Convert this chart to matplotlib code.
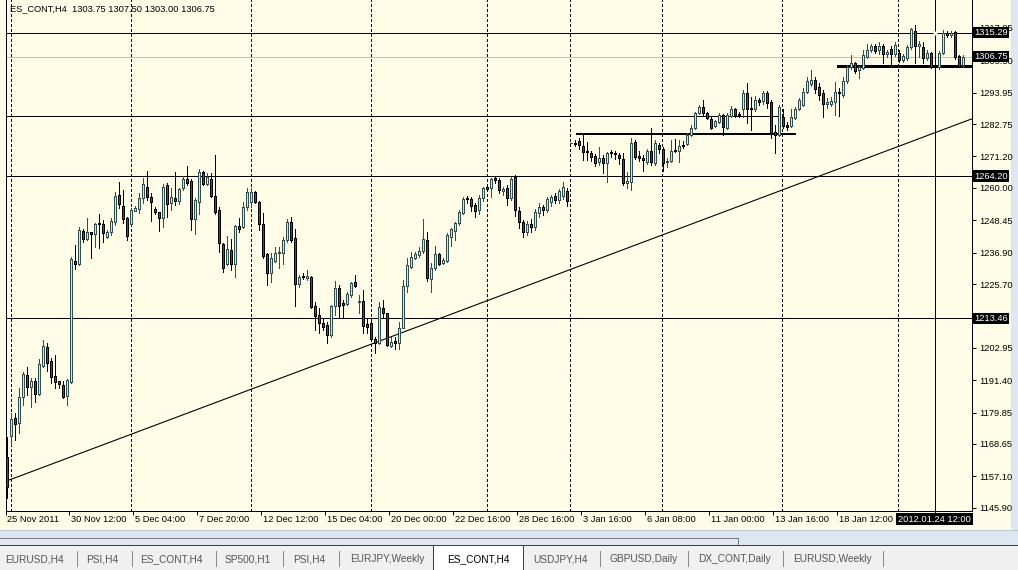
import matplotlib
matplotlib.use("Agg")
import matplotlib.pyplot as plt
from matplotlib.patches import Rectangle
import matplotlib.transforms as mtransforms

plt.rcParams['font.family'] = ['Liberation Sans', 'DejaVu Sans']

# -- DATA: ES_CONT H4 candles (25 Nov 2011 .. 24 Jan 2012)
opens = [
    1164.1, 1171.6, 1178.0, 1176.2, 1185.5, 1193.3, 1189.1, 1191.2, 1186.6, 1196.6,
    1203.3, 1198.3, 1193.0, 1191.2, 1189.8, 1185.8, 1190.8, 1234.0, 1232.9, 1244.7,
    1241.9, 1244.4, 1243.6, 1247.6, 1247.2, 1242.6, 1244.4, 1247.9, 1257.6, 1253.6,
    1249.3, 1247.2, 1251.8, 1252.5, 1256.5, 1260.4, 1256.8, 1252.5, 1251.5, 1249.3,
    1261.1, 1254.7, 1256.5, 1255.4, 1260.0, 1263.2, 1262.5, 1249.0, 1255.0, 1265.7,
    1261.5, 1263.2, 1257.2, 1252.2, 1240.1, 1233.0, 1237.9, 1233.0, 1246.5, 1246.1,
    1253.3, 1255.0, 1258.6, 1255.0, 1247.2, 1236.5, 1229.7, 1234.0, 1236.9, 1236.9,
    1241.5, 1247.9, 1242.2, 1225.8, 1228.7, 1228.0, 1228.3, 1218.0, 1214.7, 1211.9,
    1211.2, 1207.6, 1217.9, 1224.4, 1219.0, 1218.7, 1221.9, 1226.5, 1219.4, 1219.7,
    1211.5, 1211.9, 1206.2, 1204.8, 1217.3, 1215.5, 1203.7, 1205.5, 1204.8, 1210.1,
    1225.1, 1231.9, 1235.1, 1236.2, 1237.6, 1241.5, 1227.6, 1231.5, 1236.5, 1233.3,
    1234.0, 1242.6, 1244.7, 1247.6, 1251.1, 1256.5, 1256.1, 1254.0, 1252.2, 1256.5,
    1260.4, 1260.0, 1263.6, 1262.9, 1259.0, 1260.0, 1256.5, 1264.0, 1251.8, 1247.9,
    1244.4, 1247.2, 1246.1, 1251.1, 1253.3, 1252.2, 1255.0, 1257.2, 1255.8, 1257.2,
    1259.0, 1276.1, 1276.1, 1276.8, 1275.1, 1273.3, 1272.6, 1271.5, 1269.3, 1270.8,
    1269.0, 1272.9, 1272.6, 1271.8, 1270.4, 1261.8, 1262.2, 1276.5, 1271.5, 1270.8,
    1269.3, 1273.3, 1269.0, 1275.4, 1274.0, 1269.3, 1269.7, 1273.6, 1273.3, 1275.4,
    1275.8, 1279.0, 1281.4, 1286.8, 1288.9, 1286.8, 1284.6, 1282.2, 1283.6, 1286.1,
    1281.4, 1285.7, 1288.2, 1286.5, 1288.1, 1293.9, 1288.6, 1288.2, 1291.4, 1291.1,
    1293.9, 1290.7, 1280.0, 1279.0, 1285.4, 1282.5, 1282.2, 1285.0, 1288.2, 1289.7,
    1294.3, 1297.1, 1298.6, 1296.1, 1293.9, 1290.0, 1290.0, 1290.7, 1294.3, 1293.2,
    1298.2, 1303.2, 1304.7, 1302.1, 1302.9, 1306.8, 1309.3, 1310.7, 1309.3, 1310.7,
    1307.9, 1309.6, 1307.9, 1308.2, 1305.7, 1306.4, 1310.3, 1316.1, 1310.7, 1310.3,
    1306.4, 1308.2, 1303.6, 1303.2, 1308.2, 1315.3, 1314.6, 1315.7, 1307.1, 1303.75,
]
highs = [
    1171.2, 1179.8, 1179.8, 1188.7, 1194.4, 1196.2, 1192.3, 1192.3, 1199.0, 1205.8,
    1204.8, 1199.4, 1200.5, 1191.2, 1191.2, 1191.9, 1235.4, 1239.7, 1246.1, 1245.4,
    1249.3, 1244.4, 1247.6, 1250.8, 1248.6, 1245.1, 1249.3, 1258.6, 1262.2, 1259.3,
    1249.7, 1252.9, 1253.6, 1258.3, 1263.6, 1266.1, 1258.3, 1253.2, 1251.5, 1261.5,
    1261.8, 1260.0, 1265.7, 1260.0, 1264.3, 1267.9, 1263.2, 1256.5, 1266.8, 1266.1,
    1265.4, 1265.4, 1271.8, 1253.3, 1240.4, 1242.9, 1241.9, 1246.8, 1249.3, 1255.0,
    1260.0, 1260.0, 1259.0, 1255.4, 1251.1, 1236.9, 1236.9, 1239.0, 1239.0, 1242.6,
    1249.0, 1249.7, 1245.4, 1229.0, 1229.7, 1230.8, 1228.7, 1219.4, 1217.3, 1213.7,
    1212.2, 1218.3, 1226.9, 1225.4, 1220.1, 1222.9, 1226.5, 1229.0, 1221.9, 1223.7,
    1213.7, 1213.7, 1206.9, 1219.4, 1220.1, 1215.5, 1206.9, 1206.9, 1212.2, 1227.2,
    1235.1, 1237.2, 1237.2, 1239.0, 1249.0, 1244.4, 1233.3, 1239.4, 1236.9, 1235.1,
    1244.0, 1245.8, 1247.9, 1252.2, 1256.8, 1257.2, 1256.8, 1254.7, 1257.6, 1260.4,
    1260.4, 1263.6, 1264.3, 1263.6, 1260.4, 1261.1, 1264.0, 1264.7, 1253.0, 1248.6,
    1248.3, 1249.0, 1252.5, 1254.7, 1254.0, 1256.8, 1257.6, 1258.3, 1259.7, 1262.2,
    1260.0, 1276.1, 1277.2, 1277.9, 1279.7, 1276.5, 1273.3, 1272.2, 1274.7, 1271.8,
    1272.9, 1273.6, 1273.3, 1272.6, 1272.6, 1265.7, 1277.9, 1277.2, 1273.3, 1271.8,
    1273.9, 1281.4, 1277.2, 1276.1, 1274.7, 1270.8, 1277.2, 1277.6, 1277.2, 1276.8,
    1279.7, 1282.5, 1287.2, 1289.7, 1291.4, 1287.2, 1285.4, 1284.3, 1286.8, 1286.5,
    1286.8, 1289.3, 1288.6, 1287.2, 1294.8, 1297.5, 1292.5, 1292.9, 1292.2, 1294.6,
    1294.6, 1291.4, 1282.5, 1289.7, 1288.2, 1283.6, 1288.2, 1289.0, 1292.2, 1295.7,
    1299.6, 1302.1, 1299.6, 1297.5, 1295.0, 1292.2, 1292.5, 1297.9, 1295.7, 1299.6,
    1303.9, 1307.5, 1305.0, 1303.6, 1309.3, 1311.4, 1311.4, 1311.4, 1312.1, 1311.4,
    1309.3, 1310.7, 1312.1, 1309.3, 1307.9, 1311.1, 1317.1, 1318.2, 1312.5, 1312.1,
    1309.3, 1308.6, 1305.7, 1308.9, 1316.4, 1316.1, 1316.1, 1316.1, 1307.5, 1307.50,
]
lows = [
    1149.5, 1168.4, 1170.2, 1172.7, 1182.6, 1186.2, 1181.9, 1183.7, 1186.2, 1196.2,
    1194.8, 1190.5, 1188.7, 1188.7, 1185.1, 1182.6, 1190.5, 1231.1, 1232.6, 1240.8,
    1241.5, 1235.1, 1239.0, 1238.6, 1240.8, 1242.2, 1243.3, 1246.8, 1252.9, 1247.6,
    1241.5, 1246.8, 1251.8, 1251.1, 1254.7, 1255.8, 1248.3, 1250.7, 1244.7, 1246.1,
    1249.7, 1252.2, 1254.0, 1254.3, 1259.3, 1261.1, 1245.1, 1243.6, 1250.8, 1261.1,
    1261.1, 1256.8, 1250.8, 1237.2, 1230.1, 1232.6, 1230.8, 1228.3, 1244.4, 1245.8,
    1252.2, 1253.3, 1254.7, 1245.1, 1235.1, 1225.4, 1226.5, 1233.6, 1231.5, 1233.0,
    1240.8, 1240.8, 1218.0, 1224.7, 1227.6, 1227.2, 1217.3, 1209.4, 1208.3, 1209.4,
    1204.8, 1206.9, 1214.7, 1214.0, 1214.0, 1218.3, 1221.2, 1224.7, 1215.5, 1208.3,
    1208.3, 1205.8, 1201.2, 1204.4, 1214.0, 1203.7, 1203.3, 1202.6, 1202.6, 1210.1,
    1222.9, 1231.5, 1234.7, 1235.4, 1236.9, 1226.9, 1222.9, 1230.8, 1232.6, 1232.9,
    1233.6, 1239.4, 1241.5, 1246.8, 1250.8, 1254.7, 1251.8, 1249.7, 1250.8, 1255.4,
    1259.3, 1256.8, 1261.8, 1258.3, 1257.6, 1254.0, 1255.8, 1250.0, 1245.8, 1242.6,
    1243.3, 1244.4, 1245.1, 1249.7, 1250.4, 1251.5, 1253.6, 1254.7, 1254.7, 1256.1,
    1253.6, 1276.1, 1275.1, 1274.0, 1270.0, 1270.0, 1269.7, 1267.9, 1268.2, 1265.4,
    1262.2, 1271.1, 1270.4, 1268.6, 1261.1, 1260.0, 1259.3, 1270.4, 1269.7, 1266.1,
    1268.6, 1268.2, 1268.2, 1272.6, 1266.1, 1267.5, 1269.3, 1272.9, 1269.3, 1274.4,
    1275.4, 1278.6, 1281.1, 1286.4, 1286.1, 1284.6, 1281.1, 1281.8, 1283.2, 1279.0,
    1281.1, 1285.4, 1285.4, 1285.4, 1285.4, 1283.2, 1280.7, 1287.5, 1289.7, 1290.0,
    1288.6, 1277.9, 1272.6, 1278.6, 1281.4, 1280.7, 1281.8, 1284.6, 1287.9, 1289.3,
    1293.9, 1296.4, 1293.9, 1291.4, 1285.4, 1288.6, 1289.3, 1286.1, 1285.7, 1292.5,
    1297.5, 1302.5, 1301.1, 1299.3, 1302.5, 1306.4, 1308.6, 1308.2, 1307.9, 1304.6,
    1306.8, 1303.9, 1307.1, 1305.0, 1305.0, 1305.7, 1309.6, 1304.6, 1306.8, 1304.6,
    1305.7, 1302.9, 1300.7, 1302.5, 1307.9, 1313.9, 1313.9, 1306.1, 1303.2, 1303.00,
]
closes = [
    1153.4, 1177.6, 1175.9, 1185.5, 1193.7, 1189.1, 1191.2, 1186.6, 1197.3, 1203.7,
    1197.6, 1192.6, 1190.8, 1190.1, 1185.5, 1191.6, 1234.7, 1232.9, 1245.1, 1241.9,
    1244.4, 1243.6, 1247.2, 1247.2, 1244.0, 1244.4, 1248.3, 1257.2, 1254.3, 1249.0,
    1242.9, 1252.2, 1252.9, 1256.5, 1261.5, 1256.8, 1255.0, 1251.5, 1249.3, 1260.4,
    1254.3, 1256.8, 1255.4, 1259.7, 1263.2, 1261.8, 1249.0, 1255.8, 1265.7, 1261.5,
    1264.0, 1257.2, 1251.5, 1240.4, 1231.5, 1238.3, 1233.0, 1246.5, 1245.4, 1253.3,
    1258.6, 1258.6, 1255.0, 1247.2, 1235.8, 1229.7, 1235.1, 1236.9, 1237.2, 1241.5,
    1247.9, 1241.5, 1225.8, 1228.3, 1228.3, 1228.7, 1217.6, 1214.4, 1211.9, 1210.5,
    1207.6, 1217.9, 1224.4, 1217.9, 1218.3, 1222.2, 1226.2, 1225.1, 1219.7, 1210.8,
    1210.5, 1206.2, 1204.8, 1217.6, 1215.5, 1204.0, 1205.1, 1204.8, 1210.1, 1225.1,
    1232.6, 1235.4, 1236.5, 1237.6, 1241.9, 1228.0, 1231.5, 1236.5, 1232.9, 1234.4,
    1243.3, 1245.4, 1247.6, 1251.5, 1256.1, 1256.1, 1253.6, 1251.8, 1256.5, 1260.0,
    1259.7, 1263.2, 1262.9, 1259.3, 1259.7, 1256.5, 1263.2, 1252.2, 1247.9, 1244.4,
    1247.2, 1246.1, 1251.5, 1253.3, 1252.2, 1256.1, 1256.8, 1255.8, 1258.9, 1260.4,
    1255.4, 1276.1, 1275.8, 1275.4, 1272.9, 1272.9, 1271.1, 1269.0, 1270.8, 1269.0,
    1272.6, 1272.6, 1272.2, 1270.8, 1261.8, 1262.5, 1276.1, 1271.1, 1270.8, 1270.0,
    1273.3, 1269.3, 1276.1, 1274.0, 1269.0, 1269.7, 1273.3, 1273.3, 1275.1, 1275.1,
    1279.0, 1281.4, 1286.8, 1288.9, 1286.8, 1285.0, 1281.4, 1283.9, 1286.1, 1281.8,
    1286.1, 1288.2, 1286.1, 1286.1, 1293.9, 1288.2, 1288.2, 1291.4, 1290.7, 1293.9,
    1290.3, 1279.7, 1279.0, 1289.0, 1282.2, 1281.8, 1285.4, 1288.2, 1291.4, 1294.3,
    1298.2, 1298.6, 1295.4, 1293.2, 1290.0, 1290.7, 1291.1, 1294.3, 1293.9, 1298.2,
    1303.2, 1304.7, 1301.8, 1303.2, 1307.5, 1309.3, 1310.7, 1308.9, 1310.7, 1307.9,
    1308.6, 1307.9, 1311.1, 1305.7, 1307.1, 1310.3, 1316.8, 1310.7, 1311.4, 1306.4,
    1308.2, 1303.2, 1303.2, 1308.2, 1315.3, 1314.6, 1315.3, 1306.8, 1303.6, 1306.75,
]

# time axis labels (bar number where each label sits)
time_label_bars = [1, 17, 33, 49, 65, 81, 97, 113, 129, 145, 161, 177, 193, 209]
time_labels = ['25 Nov 2011', '30 Nov 12:00', '5 Dec 04:00', '7 Dec 20:00',
               '12 Dec 12:00', '15 Dec 04:00', '20 Dec 00:00', '22 Dec 16:00',
               '28 Dec 16:00', '3 Jan 16:00', '6 Jan 08:00', '11 Jan 00:00',
               '13 Jan 16:00', '18 Jan 12:00']
cursor_bar = 233
cursor_label = '2012.01.24 12:00'
grid_bars = [2, 32, 62, 92, 121, 142, 165, 195, 224]

# price axis
price_ticks = [1145.90, 1157.10, 1168.65, 1179.85, 1191.40, 1202.95, 1225.70,
               1236.90, 1248.45, 1260.00, 1271.20, 1282.75, 1293.95, 1305.50, 1317.05]
marked_prices = [1213.46, 1264.20, 1306.75, 1315.29]

# drawn objects: levels and trend line
full_levels = [1315.29, 1264.20, 1213.46]
level_1285 = 1285.8
level_1285_end = 193.8
box_level = 1279.3
box_start, box_end = 143.6, 198.1
range_level = 1303.6
range_start = 208.8
bid_price = 1306.75
trend_p1 = (1, 1155.5)
trend_p2 = (240, 1283.4)

symbol = 'ES_CONT,H4'
tabs = ['EURUSD,H4', 'PSI,H4', 'ES_CONT,H4', 'SP500,H1', 'PSI,H4', 'EURJPY,Weekly',
        'ES_CONT,H4', 'USDJPY,H4', 'GBPUSD,Daily', 'DX_CONT,Daily', 'EURUSD,Weekly']
active_tab = 6

# -- STYLE / LAYOUT
W, H = 1018, 570
BG = '#fffce8'
BULL_FILL, BULL_EDGE = '#f0e68c', '#2f4f4f'
BEAR_FILL, BEAR_EDGE = '#4f4f4f', '#000000'
FS = 6.7
PX = 0.72  # 1 pixel in points at dpi 100

fig = plt.figure(figsize=(W / 100, H / 100), dpi=100)
fig.patch.set_facecolor(BG)

# window frame, scroll bar and tab strip in pixel coordinates
frame = fig.add_axes([0, 0, 1, 1], zorder=0)
frame.set_xlim(0, W)
frame.set_ylim(H, 0)
frame.axis('off')
frame.add_patch(Rectangle((1011, 0), 7, 545, fc='#dde6f1', ec='none'))
frame.add_patch(Rectangle((0, 530), W, 15, fc='#dde6f1', ec='none'))
frame.plot([0, 738, 738], [537.5, 537.5, 544], color='#7a7a7a', lw=PX)
frame.plot([0, W], [530, 530], color='#b9c6d6', lw=PX)
frame.add_patch(Rectangle((0, 545), W, 25, fc='#f0f0f0', ec='none'))
frame.plot([0, W], [545, 545], color='#404040', lw=PX)
frame.add_patch(Rectangle((433, 545), 90, 26, fc='white', ec='#404040', lw=PX))

tab_left = [5, 86, 140, 225, 293, 350, 447, 533, 610, 698, 793]
tab_seps = [77, 132, 216, 283, 339, 600, 688, 783, 883]
for i, (name, x) in enumerate(zip(tabs, tab_left)):
    frame.text(x, 559, name, fontsize=7.3, va='center', ha='left',
               color='black' if i == active_tab else '#555555')
for x in tab_seps:
    frame.plot([x, x], [551, 566], color='#8a8a8a', lw=PX)

# main chart: x in bars, 4 px per bar, first candle at x=6.7 px
ppb = 4.0
x0_px, x1_px, y1_px = 5.5, 972.0, 511.0
bar_at = lambda px: (px - 6.7) / ppb + 1
pp = (1293.95 - 1145.90) / (507.7 - 92.7)   # price per pixel
ax = fig.add_axes([x0_px / W, (H - y1_px) / H, (x1_px - x0_px) / W, y1_px / H], zorder=1)
ax.set_facecolor(BG)
ax.set_xlim(bar_at(x0_px), bar_at(x1_px))
ax.set_ylim(1145.90 - (y1_px - 507.7) * pp, 1145.90 + 507.7 * pp)

ax.spines['top'].set_visible(False)
for side in ['left', 'right', 'bottom']:
    ax.spines[side].set_linewidth(PX)

# grid lines
for b in grid_bars:
    ax.axvline(b - 0.1, color='black', lw=PX, ls=(0, (2.2, 2.2)), zorder=1, antialiased=False)

# levels
for p in full_levels:
    ax.axhline(p, color='black', lw=PX, zorder=2, antialiased=False)
ax.axhline(bid_price, color='#c0c0c0', lw=PX, zorder=1.5, antialiased=False)
ax.plot([ax.get_xlim()[0], level_1285_end], [level_1285] * 2, color='black', lw=PX,
        zorder=2, antialiased=False)
ax.plot([box_start, box_end], [box_level] * 2, color='black', lw=PX * 1.5, zorder=2,
        antialiased=False)
ax.plot([range_start, ax.get_xlim()[1]], [range_level] * 2, color='black', lw=PX * 3,
        zorder=2, antialiased=False)
slope = (trend_p2[1] - trend_p1[1]) / (trend_p2[0] - trend_p1[0])
xr = ax.get_xlim()[1]
ax.plot([trend_p1[0], xr], [trend_p1[1], trend_p1[1] + slope * (xr - trend_p1[0])],
        color='black', lw=PX * 1.1, zorder=2)
ax.axvline(cursor_bar, color='black', lw=PX, zorder=2, antialiased=False)
ax.plot(cursor_bar, full_levels[0], 's', ms=2.5, mfc='white', mec='none', zorder=2.5)

# candles
bars = range(1, len(closes) + 1)
for i, o, h, l, c in zip(bars, opens, highs, lows, closes):
    up = c >= o
    fill, edge = (BULL_FILL, BULL_EDGE) if up else (BEAR_FILL, BEAR_EDGE)
    ax.plot([i, i], [l, h], color=edge, lw=PX, zorder=3, solid_capstyle='butt',
            antialiased=False)
    lo, hi = min(o, c), max(o, c)
    ax.add_patch(Rectangle((i - 0.25, lo), 0.5, max(hi - lo, 0.01),
                           fc=fill, ec=edge, lw=PX, zorder=4, antialiased=False))

# price axis
ax.yaxis.tick_right()
ax.set_yticks(price_ticks)
ax.set_yticklabels([f'{p:.2f}' for p in price_ticks], fontsize=FS)
ax.tick_params(axis='y', direction='out', length=3, width=PX, pad=2)
for p in marked_prices:
    ax.text(1.0 + 2.5 / (x1_px - x0_px), p, f'{p:.2f}', transform=ax.get_yaxis_transform(),
            fontsize=FS, color='white', va='center', ha='left', zorder=10, clip_on=False,
            bbox=dict(boxstyle='square,pad=0.12', fc='black', ec='none'))

# time axis: MT4 prints labels to the right of the tick
tick_pos = [b - 0.4 for b in time_label_bars]
ax.set_xticks(tick_pos + [cursor_bar])
ax.set_xticklabels([])
ax.tick_params(axis='x', direction='out', length=3, width=PX)
off = mtransforms.offset_copy(ax.get_xaxis_transform(), fig=fig, x=1.5, y=-4, units='dots')
for x, s in zip(tick_pos, time_labels):
    ax.text(x, 0, s, transform=off, fontsize=FS, va='top', ha='left', clip_on=False)
off2 = mtransforms.offset_copy(ax.get_xaxis_transform(), fig=fig, x=0, y=-3.5, units='dots')
ax.text(cursor_bar, 0, cursor_label, transform=off2, fontsize=FS, va='top', ha='center',
        color='white', clip_on=False, zorder=10,
        bbox=dict(boxstyle='square,pad=0.2', fc='black', ec='none'))

# symbol line
ax.text(4.5 / (x1_px - x0_px), 1 - 4 / y1_px,
        f'{symbol}  {opens[-1]:.2f} {highs[-1]:.2f} {lows[-1]:.2f} {closes[-1]:.2f}',
        transform=ax.transAxes, fontsize=FS, va='top', ha='left', zorder=10)

fig.savefig('out.png', dpi=100, facecolor=fig.get_facecolor())
